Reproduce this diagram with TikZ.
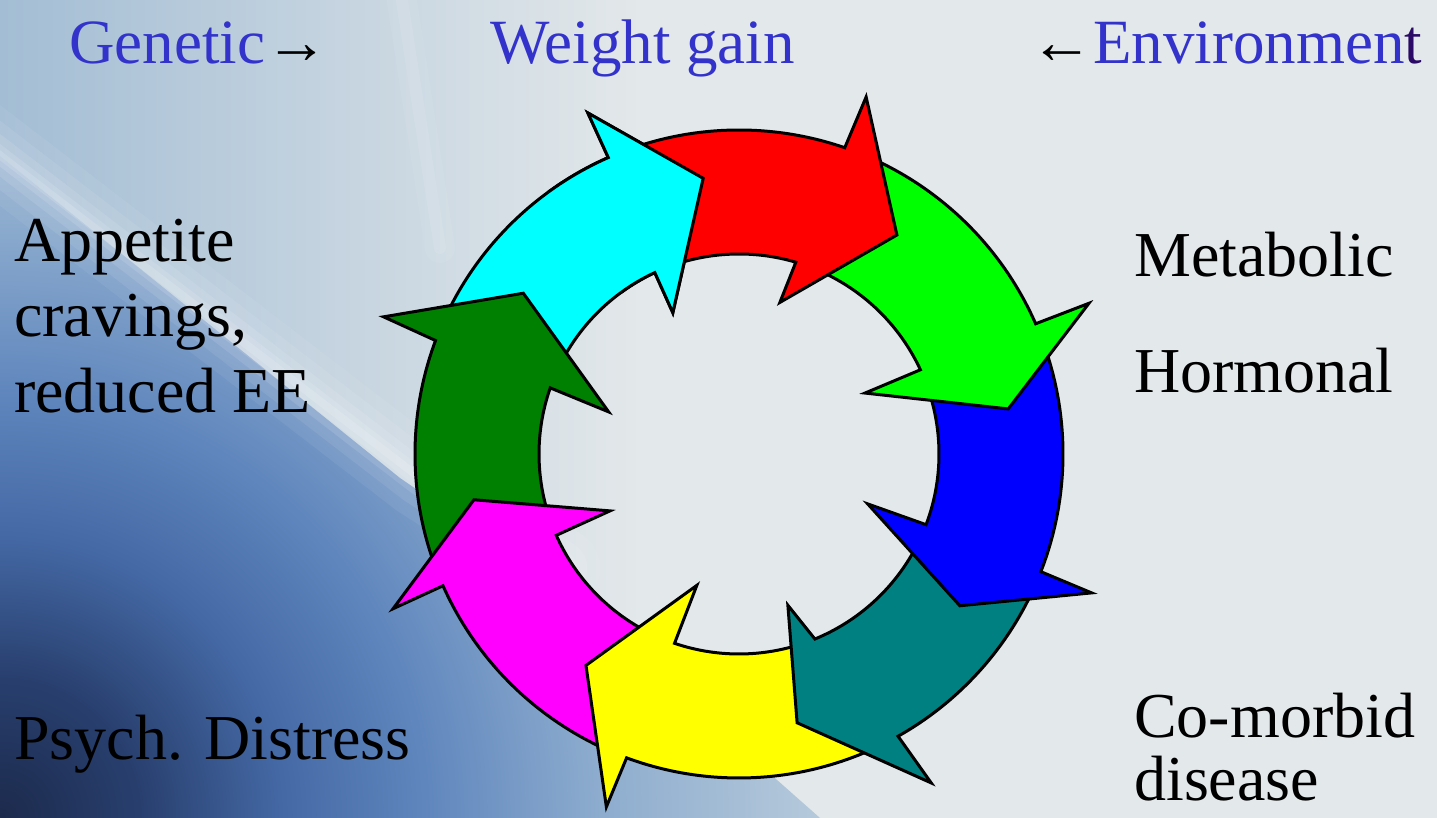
\documentclass[tikz,border=0pt]{standalone}
\usepackage{fontspec}
\setmainfont{Liberation Serif}
\definecolor{bgbase}{HTML}{E3E8EA}
\definecolor{bgtl}{HTML}{A3BDD4}
\definecolor{lbzero}{HTML}{1C2A4C}
\definecolor{lbone}{HTML}{283F6E}
\definecolor{lbtwo}{HTML}{4468A4}
\definecolor{lbthree}{HTML}{5F86BD}
\definecolor{lbfour}{HTML}{8DACCE}
\definecolor{lbfive}{HTML}{B9CCDC}
\definecolor{lbsix}{HTML}{E3E8EA}
\definecolor{titleblue}{RGB}{51,51,204}
\definecolor{tdark}{HTML}{2A0A66}
\definecolor{arcyan}{HTML}{00FFFF}
\definecolor{arred}{HTML}{FF0000}
\definecolor{argreen}{HTML}{00FF00}
\definecolor{arblue}{HTML}{0000FF}
\definecolor{arteal}{HTML}{008080}
\definecolor{aryellow}{HTML}{FFFF00}
\definecolor{armagenta}{HTML}{FF00FF}
\definecolor{ardkgreen}{HTML}{008000}
\pgfdeclareradialshading{lowblue}{\pgfpoint{0bp}{0bp}}{color(0bp)=(lbzero); color(3.5bp)=(lbone); color(7bp)=(lbtwo); color(10.6bp)=(lbthree); color(15bp)=(lbfour); color(21bp)=(lbfive); color(27bp)=(lbsix); color(50bp)=(lbsix)}
\begin{document}
\begin{tikzpicture}[x=1pt,y=1pt,
  ringarrow/.style={draw=black, line width=3pt, line join=miter},
  bluetxt/.style={text=titleblue, font=\fontsize{63}{70}\selectfont, inner sep=0pt, anchor=base west},
  blacktxt/.style={text=black, font=\fontsize{64}{72}\selectfont, inner sep=0pt, anchor=base west}]
\useasboundingbox (0,0) rectangle (1437,818);
% background
\fill[bgbase] (0,0) rectangle (1437,818);
\shade[left color=bgtl, right color=bgbase] (0,0) rectangle (640,818);
\begin{scope}
  \clip (0,662) -- (400,340) -- (560,230) -- (820,0) -- (0,0) -- cycle;
  \shade[shading=lowblue] (-1000,-1000) rectangle (1000,1000);
\end{scope}
\foreach \w/\o in {80/0.06, 55/0.08, 34/0.10, 18/0.12, 8/0.14}
  \draw[white, line width=\w, opacity=\o, line cap=round] (-20,678) -- (420,340) -- (560,250);
\foreach \w/\o in {30/0.06, 12/0.08}
  \draw[white, line width=\w, opacity=\o, line cap=round] (400,830) -- (440,570);
% ring of arrows
\begin{scope}[shift={(739,364)}]
\foreach \tO/\tI/\aO/\bA/\bR/\tA/\tR/\iA/\iR/\aI/\cl in {
 158.5/159.7/113.8/113.9/373/97.4/278/115.1/156/114.9/arcyan,
 203/203/159.5/158.9/381/143.3/269/162.1/137/160.7/ardkgreen,
 -111.3/-109.8/-156/-155.9/379/-170.2/269/-156.2/141/-156/armagenta,
 -61.6/-68.7/-110.3/-110.6/377/-125.9/261/-107.8/138/-108.8/aryellow,
 -22.3/-21.7/-60.6/-59.7/381/-77.8/275/-72.1/159/-67.7/arteal,
 22.7/23.9/-21.3/-21.5/379/-34.5/268/-21.2/138/-20.7/arblue,
 69.95/72.5/23.7/23.3/381/9.5/273/25.8/140/24.9/argreen,
 112.8/113.9/70.95/70.4/379/54.2/270/74.9/157/73.5/arred}
 {\filldraw[ringarrow, fill=\cl] (\tO:324pt) arc[start angle=\tO, end angle=\aO, radius=324pt]
    -- (\bA:\bR pt) -- (\tA:\tR pt) -- (\iA:\iR pt) -- (\aI:200pt)
    arc[start angle=\aI, end angle=\tI, radius=200pt] -- cycle;}
\begin{scope}
  \clip (0,0) -- (86:430pt) arc[start angle=86, end angle=126, radius=430pt] -- cycle;
  \filldraw[ringarrow, fill=arcyan] (158.5:324pt) arc[start angle=158.5, end angle=113.8, radius=324pt]
    -- (113.9:373pt) -- (97.4:278pt) -- (115.1:156pt) -- (114.9:200pt)
    arc[start angle=114.9, end angle=159.7, radius=200pt] -- cycle;
\end{scope}
\end{scope}
% texts
\node[bluetxt] (gen) at (69,754) {Genetic\textcolor{black}{→}};
\node[bluetxt] (wg) at (490,754) {Weight gain};
\node[bluetxt] (env) at (1030,754) {\textcolor{black}{←}Environmen\textcolor{tdark}{t}};
\node[blacktxt] (app) at (14,556) {Appetite};
\node[blacktxt] (crav) at (14,481) {cravings,};
\node[blacktxt] (redee) at (14,405) {reduced EE};
\node[blacktxt] (meta) at (1134,541) {Metabolic};
\node[blacktxt] (horm) at (1134,425) {Hormonal};
\node[blacktxt] (como) at (1134,80) {Co-morbid};
\node[blacktxt] (dis) at (1134,17) {disease};
\node[blacktxt] (psy) at (14,58) {Psych. Distress};
\end{tikzpicture}
\end{document}
